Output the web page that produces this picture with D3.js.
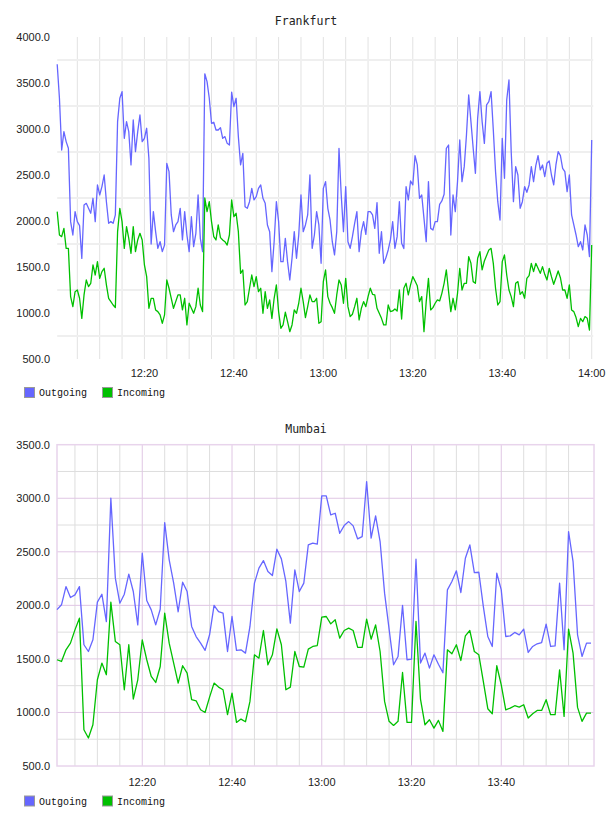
<!DOCTYPE html>
<html><head><meta charset="utf-8">
<script src="https://cdn.jsdelivr.net/npm/d3@7"></script>
<style>body{margin:0;background:#fff}</style>
</head><body><svg id="c" width="608" height="816"></svg>
<script>
const seriesNames = ["Outgoing", "Incoming"];
const seriesColors = ["#6666ff", "#00c000"];

const frankfurtTitle = "Frankfurt";
const frankfurtStart = "12:00:30";
const frankfurtStepSeconds = 30;
const frankfurtOutgoing = [
3703,3334,2772,2971,2863,2790,1993,1848,2102,1993,
1950,1594,2174,2192,2138,2084,2247,1993,2392,2283,
2374,2500,2210,1975,1993,1975,2066,3080,3334,3406,
2899,3080,2971,2609,3098,2754,2971,3152,2863,2899,
3008,2681,1750,2102,1884,1703,1775,1667,1739,2627,
2537,2066,1884,1957,1993,2138,1794,2102,1848,1667,
2047,1721,1866,2283,1812,1667,3600,3515,3334,3062,
3073,2989,2989,3015,2899,2917,2844,2826,3400,3243,
3334,2917,2609,2736,2156,2138,2210,2355,2229,2265,
2355,2392,2247,2192,1957,1884,1450,1775,2210,1993,
1558,1558,1812,1558,1359,1595,1884,1595,1848,2283,
1884,1957,2066,2500,1703,1848,2102,1957,1540,2355,
2428,2138,2011,1775,1631,1884,2790,2283,1884,2374,
1775,1703,1830,1975,2102,1667,1884,1993,1855,2102,
2102,2066,1920,2200,1649,1884,1540,1602,1685,1794,
1993,1703,1830,2210,1757,1700,2374,2229,2435,2392,
2710,2609,2247,2283,2029,1775,2428,1920,1902,1993,
1993,2181,2218,2290,2790,2826,1848,2283,2102,2428,
2881,2428,2591,2935,3370,3080,2790,2518,3116,3406,
3080,2844,3261,3297,3406,2989,2537,2210,2011,2899,
2464,3315,3533,2754,2210,2591,2500,2138,2210,2374,
2312,2392,2591,2428,2602,2710,2555,2609,2482,2627,
2652,2500,2392,2609,2754,2710,2573,2537,2319,2500,
2066,1957,1848,1721,1775,1685,1957,1848,1613,2881];
const frankfurtIncoming = [
2102,1848,1830,1920,1703,1703,1178,1069,1232,1250,
1160,942,1196,1359,1287,1323,1522,1413,1558,1377,
1450,1486,1305,1160,1124,1087,1060,1884,2138,1993,
1703,1939,1812,1649,1939,1667,1794,1866,1794,1522,
1395,1051,1160,1160,1033,1015,979,888,979,1359,
1269,1160,1051,1124,1196,1196,1033,1160,870,1106,
1051,997,1069,1269,1087,1015,2250,2102,2210,1993,
1830,1794,1957,1819,1794,1775,1739,1848,2229,2047,
2084,1884,1431,1468,1087,1124,1269,1413,1287,1395,
1232,1269,997,1232,1051,1142,942,1160,1305,1015,
834,870,1008,906,797,870,1033,997,1106,1269,
1124,950,1069,1196,1124,1124,1160,888,906,1341,
1468,1178,1106,1058,997,1196,1359,1305,1106,1377,
1069,961,986,1069,1160,924,1051,1124,1069,1178,
1269,1203,1196,1051,997,942,870,870,1087,1015,
1022,1044,1022,1250,935,1269,1323,1196,1305,1395,
1348,1297,1124,1178,797,1124,1377,1033,1058,1106,
1142,1131,1214,1323,1468,1232,1015,1160,1033,1214,
1486,1250,1323,1323,1613,1540,1341,1323,1595,1667,
1468,1565,1624,1685,1703,1540,1269,1087,1124,1558,
1631,1413,1250,1178,1069,1323,1341,1203,1232,1160,
1377,1406,1540,1450,1540,1486,1431,1504,1420,1359,
1486,1395,1312,1384,1457,1384,1250,1250,1160,1305,
1033,1015,950,852,942,906,961,942,815,1739];
const frankfurtYTicks = [500, 1000, 1500, 2000, 2500, 3000, 3500, 4000];
const frankfurtXTickLabels = ["12:20", "12:40", "13:00", "13:20", "13:40", "14:00"];

const mumbaiTitle = "Mumbai";
const mumbaiStart = "12:01:00";
const mumbaiStepSeconds = 60;
const mumbaiOutgoing = [
1960,2005,2175,2073,2098,2175,1632,1569,1678,2030,
2104,1849,3000,2254,2020,2104,2291,2129,1818,2487,
2045,1958,1818,1964,2773,2425,2207,1940,2216,2129,
1803,1709,1647,1579,1725,2000,1942,1927,1569,1896,
1579,1585,1554,1803,2207,2347,2418,2316,2278,2524,
2434,2223,1834,2331,2129,2207,2564,2580,2571,3022,
3022,2844,2860,2673,2745,2782,2742,2620,2642,3155,
2627,2835,2596,2114,1780,1445,1523,2000,1492,1498,
2431,1461,1554,1414,1538,1450,1370,2145,2223,2322,
2120,2440,2564,2306,2309,1990,1709,1616,2300,2145,
1709,1715,1747,1725,1778,1560,1616,1641,1653,1824,
1616,1622,2207,1585,2689,2409,1725,1523,1647,1647];
const mumbaiIncoming = [
1492,1476,1585,1647,1771,1880,839,761,885,1305,
1461,1352,2030,1663,1632,1212,1632,1125,1305,1678,
1492,1336,1280,1429,1927,1647,1461,1274,1436,1367,
1119,1109,1025,1000,1143,1274,1237,1212,979,1181,
907,938,913,1103,1538,1507,1765,1445,1538,1781,
1632,1212,1237,1569,1429,1423,1591,1616,1625,1890,
1896,1827,1865,1694,1765,1787,1765,1607,1607,1871,
1684,1818,1569,1103,917,879,917,1373,907,907,
1849,1125,885,932,854,926,823,1585,1548,1632,
1485,1715,1765,1569,1538,1290,1035,988,1436,1258,
1025,1041,1063,1050,1072,948,988,1019,1019,1119,
979,979,1398,963,1778,1554,1047,917,994,994];
const mumbaiYTicks = [500, 1000, 1500, 2000, 2500, 3000, 3500];
const mumbaiXTickLabels = ["12:20", "12:40", "13:00", "13:20", "13:40"];

const parseT = d3.timeParse("%H:%M:%S");
const parseHM = d3.timeParse("%H:%M");
const svg = d3.select("#c");

function toPoints(start, step, values) {
  const t0 = parseT(start);
  return values.map((v, i) => ({ t: new Date(t0.getTime() + i * step * 1000), v }));
}

function drawPanel(o) {
  const g = svg.append("g");
  const x = d3.scaleTime().domain([parseT(o.xDomain[0]), parseT(o.xDomain[1])]).range(o.xRange);
  const y = d3.scaleLinear().domain(o.yDomain).range(o.yRange);
  const [x0, x1] = o.xRange, [yb, yt] = o.yRange;
  const minorY = d3.range(o.yDomain[0] + 250, o.yDomain[1], 500);
  const majorYInner = o.yTicks.filter(v => v > o.yDomain[0] && v < o.yDomain[1]);
  const grid5 = d3.timeMinute.every(5).range(parseT(o.gridFrom), parseT(o.gridTo));
  const is20 = d => d.getMinutes() % 20 === 0;

  if (!o.framed) {
    g.selectAll(".vg").data(grid5).join("line")
      .attr("x1", d => x(d)).attr("x2", d => x(d)).attr("y1", yt).attr("y2", yb)
      .attr("stroke", "#e2e2e2").attr("stroke-width", 1);
    g.selectAll(".hg").data(minorY).join("line")
      .attr("x1", x0).attr("x2", x1).attr("y1", d => y(d)).attr("y2", d => y(d))
      .attr("stroke", "#efefef").attr("stroke-width", 2);
  } else {
    g.selectAll(".vg").data(grid5.filter(d => !is20(d))).join("line")
      .attr("x1", d => x(d)).attr("x2", d => x(d)).attr("y1", yt).attr("y2", yb)
      .attr("stroke", "#dedede").attr("stroke-width", 1);
    g.selectAll(".hg").data(minorY).join("line")
      .attr("x1", x0).attr("x2", x1).attr("y1", d => y(d)).attr("y2", d => y(d))
      .attr("stroke", "#dedede").attr("stroke-width", 1);
    g.selectAll(".vm").data(grid5.filter(is20)).join("line")
      .attr("x1", d => x(d)).attr("x2", d => x(d)).attr("y1", yt).attr("y2", yb)
      .attr("stroke", "#e0c6e4").attr("stroke-width", 1);
    g.selectAll(".hm").data(majorYInner).join("line")
      .attr("x1", x0).attr("x2", x1).attr("y1", d => y(d)).attr("y2", d => y(d))
      .attr("stroke", "#e0c6e4").attr("stroke-width", 1);
    g.append("rect").attr("x", x0).attr("y", yt).attr("width", x1 - x0).attr("height", yb - yt)
      .attr("fill", "none").attr("stroke", "#e8d4ec").attr("stroke-width", 1.5);
  }

  const line = d3.line().x(d => x(d.t)).y(d => y(d.v));
  o.series.forEach((s, k) => {
    g.append("path").datum(toPoints(o.start, o.step, s))
      .attr("d", line).attr("fill", "none")
      .attr("stroke", seriesColors[k]).attr("stroke-width", 1.3)
      .attr("stroke-linejoin", "round");
  });

  // y tick labels
  g.selectAll(".yl").data(o.yTicks).join("text")
    .attr("x", 50).attr("y", d => y(d)).attr("dy", "0.36em")
    .attr("text-anchor", "end")
    .attr("font-family", "Liberation Sans, Arial, sans-serif").attr("font-size", 11)
    .attr("fill", "#222").text(d3.format(".1f"));

  // x tick labels
  g.selectAll(".xl").data(o.xLabels).join("text")
    .attr("x", d => x(parseHM(d))).attr("y", o.xLabelY)
    .attr("text-anchor", "middle")
    .attr("font-family", "Liberation Sans, Arial, sans-serif").attr("font-size", 11)
    .attr("fill", "#222").text(d => d);

  // title
  g.append("text").attr("x", 306).attr("y", o.titleY).attr("text-anchor", "middle")
    .attr("font-family", "DejaVu Sans Mono, monospace").attr("font-size", 11.5)
    .attr("fill", "#222").text(o.title);

  // legend
  const legX = [24, 102];
  seriesNames.forEach((n, k) => {
    g.append("rect").attr("x", legX[k] + 0.5).attr("y", o.legendY + 0.5).attr("width", 10).attr("height", 10)
      .attr("fill", seriesColors[k]).attr("stroke", "#999").attr("stroke-width", 1);
    g.append("text").attr("x", legX[k] + 15).attr("y", o.legendY + 5.5).attr("dy", "0.35em")
      .attr("font-family", "Liberation Mono, DejaVu Sans Mono, monospace").attr("font-size", 10)
      .attr("fill", "#111").text(n);
  });
}

drawPanel({
  title: frankfurtTitle, titleY: 24.5,
  start: frankfurtStart, step: frankfurtStepSeconds,
  series: [frankfurtOutgoing, frankfurtIncoming],
  xDomain: ["12:00:30", "14:00:20"], xRange: [57.2, 593.2],
  yDomain: [500, 4000], yRange: [359, 37],
  yTicks: frankfurtYTicks, xLabels: frankfurtXTickLabels,
  gridFrom: "12:05:00", gridTo: "14:00:01",
  xLabelY: 377, legendY: 387, framed: false
});

drawPanel({
  title: mumbaiTitle, titleY: 433,
  start: mumbaiStart, step: mumbaiStepSeconds,
  series: [mumbaiOutgoing, mumbaiIncoming],
  xDomain: ["12:01:00", "14:00:40"], xRange: [57, 594],
  yDomain: [500, 3500], yRange: [766, 444.7],
  yTicks: mumbaiYTicks, xLabels: mumbaiXTickLabels,
  gridFrom: "12:05:00", gridTo: "14:00:00",
  xLabelY: 785.5, legendY: 795.5, framed: true
});
</script>
</body></html>
